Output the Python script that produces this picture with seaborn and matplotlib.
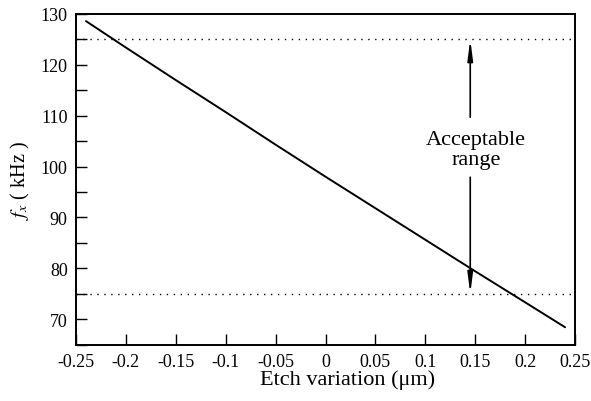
import numpy as np
import pandas as pd
import matplotlib
matplotlib.use("Agg")
import matplotlib.pyplot as plt
import seaborn as sns
from matplotlib.ticker import MultipleLocator

# Data
etch = [-0.24, -0.2, -0.15, -0.1, -0.05, 0.0, 0.05, 0.1, 0.15, 0.2, 0.24]
fx = [128.6, 123.4, 117.0, 110.7, 104.3, 98.0, 91.8, 85.6, 79.4, 73.3, 68.4]
limits = [125, 75]
arrow_x = 0.145
xticks = [-0.25, -0.2, -0.15, -0.1, -0.05, 0, 0.05, 0.1, 0.15, 0.2, 0.25]
xticklabels = ["-0.25", "-0.2", "-0.15", "-0.1", "-0.05", "0", "0.05", "0.1", "0.15", "0.2", "0.25"]
yticks = [70, 80, 90, 100, 110, 120, 130]

sns.set_theme(style="ticks")
plt.rcParams["font.family"] = ["Liberation Serif", "DejaVu Serif"]
plt.rcParams["mathtext.fontset"] = "stix"
plt.rcParams["text.color"] = "black"
plt.rcParams["axes.labelcolor"] = "black"

df = pd.DataFrame({"etch": etch, "fx": fx})

fig = plt.figure(figsize=(5.91, 4.02), dpi=100)
ax = fig.add_axes([0.1286, 0.1405, 0.8444, 0.8222])

sns.lineplot(data=df, x="etch", y="fx", ax=ax, color="black", linewidth=1.4)

for v in limits:
    ax.axhline(v, color="black", linewidth=1.0, linestyle=(0, (1, 4)))

ap = dict(arrowstyle="-|>,head_length=1.0,head_width=0.13", color="black", lw=1.2,
          shrinkA=0, shrinkB=0)
ax.annotate("", xy=(arrow_x, limits[0]), xytext=(arrow_x, 109.7), arrowprops=ap)
ax.annotate("", xy=(arrow_x, limits[1]), xytext=(arrow_x, 97.9), arrowprops=ap)
ax.text(arrow_x + 0.006, 103.3, "Acceptable\nrange", ha="center", va="center", fontsize=16,
        linespacing=1.05, color="black")

ax.set_xlim(-0.25, 0.25)
ax.set_ylim(65, 130)
ax.set_xticks(xticks)
ax.set_xticklabels(xticklabels)
ax.set_yticks(yticks)
ax.yaxis.set_minor_locator(MultipleLocator(5))
ax.tick_params(axis="both", which="both", direction="in", length=8, width=1.0,
               labelsize=13, colors="black", pad=6)
ax.tick_params(axis="y", which="minor", length=8)

for s in ax.spines.values():
    s.set_linewidth(1.4)
    s.set_color("black")

ax.set_xlabel("Etch variation (\u03bcm)", fontsize=16, labelpad=1, color="black")
ax.xaxis.set_label_coords(0.545, -0.075)
ax.set_ylabel("$f_x$ ( kHz )", fontsize=14.5, labelpad=6, color="black")

fig.savefig("out.png", dpi=100)
